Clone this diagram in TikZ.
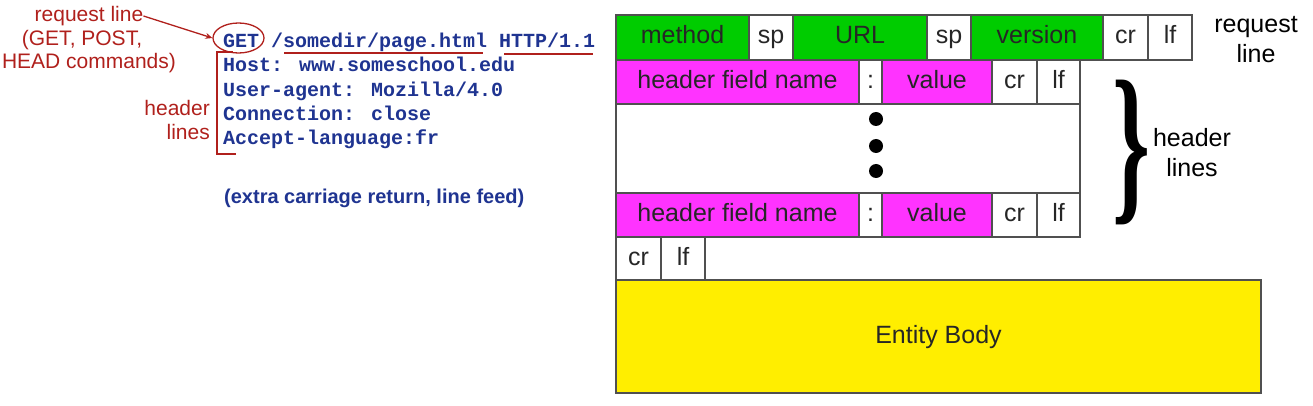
\documentclass[tikz,border=0pt]{standalone}
\usepackage{fontspec}
\setmainfont{Liberation Sans}
\newfontfamily\monofont{Liberation Mono}
\newfontfamily\seriffont{Liberation Serif}
\usetikzlibrary{shapes.geometric,arrows.meta}
\definecolor{grn}{RGB}{0,204,0}
\definecolor{mag}{RGB}{255,51,255}
\definecolor{yel}{RGB}{255,238,0}
\definecolor{navy}{RGB}{31,52,145}
\definecolor{ann}{RGB}{176,32,28}
\definecolor{edge}{RGB}{80,80,80}
\begin{document}
\begin{tikzpicture}[x=1pt,y=-1pt,
  box/.style={draw=edge,line width=1.3pt,anchor=north west,inner sep=0pt,outer sep=0pt,
    font=\fontsize{25}{25}\selectfont,text=black!85,text height=18pt,text depth=5pt},
  gbox/.style={box,fill=grn},
  mbox/.style={box,fill=mag},
  wbox/.style={box,fill=white},
  code/.style={anchor=base west,inner sep=0pt,text=navy,font=\monofont\bfseries\fontsize{20}{20}\selectfont},
  annot/.style={text=ann,inner sep=0pt,font=\fontsize{21}{21}\selectfont},
  redline/.style={draw=ann,line width=1.3pt},
  dot/.style={circle,fill=black,minimum size=14pt,inner sep=0pt},
  side/.style={align=center,inner sep=0pt,font=\fontsize{25}{30}\selectfont}]
\useasboundingbox (0,0) rectangle (1313,406);
% request line row
\node[gbox,minimum width=133pt,minimum height=45pt] (m) at (616,15) {method};
\node[wbox,minimum width=44pt,minimum height=45pt] (sp1) at (m.north east) {sp};
\node[gbox,minimum width=134pt,minimum height=45pt] (url) at (sp1.north east) {URL};
\node[wbox,minimum width=44pt,minimum height=45pt] (sp2) at (url.north east) {sp};
\node[gbox,minimum width=132pt,minimum height=45pt] (ver) at (sp2.north east) {version};
\node[wbox,minimum width=45pt,minimum height=45pt] (cr0) at (ver.north east) {cr};
\node[wbox,minimum width=44pt,minimum height=45pt] (lf0) at (cr0.north east) {lf};
% first header line
\node[mbox,minimum width=243pt,minimum height=44pt] (h1) at (616,60) {header field name};
\node[wbox,minimum width=23pt,minimum height=44pt] (c1) at (h1.north east) {:};
\node[mbox,minimum width=110pt,minimum height=44pt] (v1) at (c1.north east) {value};
\node[wbox,minimum width=45pt,minimum height=44pt] (cr1) at (v1.north east) {cr};
\node[wbox,minimum width=43pt,minimum height=44pt] (lf1) at (cr1.north east) {lf};
% gap
\node[wbox,minimum width=464pt,minimum height=89pt] (gap) at (616,104) {};
\node[dot] (d1) at (876,119) {};
\node[dot] (d2) at (876,146) {};
\node[dot] (d3) at (876,171) {};
% last header line
\node[mbox,minimum width=243pt,minimum height=44pt] (h2) at (616,193) {header field name};
\node[wbox,minimum width=23pt,minimum height=44pt] (c2) at (h2.north east) {:};
\node[mbox,minimum width=110pt,minimum height=44pt] (v2) at (c2.north east) {value};
\node[wbox,minimum width=45pt,minimum height=44pt] (cr2) at (v2.north east) {cr};
\node[wbox,minimum width=43pt,minimum height=44pt] (lf2) at (cr2.north east) {lf};
% blank line
\node[wbox,minimum width=45pt,minimum height=43pt] (cr3) at (616,237) {cr};
\node[wbox,minimum width=44pt,minimum height=43pt] (lf3) at (cr3.north east) {lf};
% body
\node[box,fill=yel,minimum width=645pt,minimum height=113pt] (body) at (616,280) {Entity Body};
% side labels
\node[side] (rqlab) at (1256,40) {request\\line};
\node[inner sep=0pt,font=\seriffont\bfseries\fontsize{175}{175}\selectfont,xscale=0.55] (brace) at (1131,152) {\}};
\node[side] (hdlab) at (1192,153) {header\\lines};
% left: message text
\node[code] (get) at (223,48) {GET};
\node[code] (path) at (271,48) {/somedir/page.html};
\node[code] (http) at (499,48) {HTTP/1.1};
\node[code] (host) at (223,72) {Host: www.someschool.edu};
\node[code] (ua) at (223,96.5) {User-agent: Mozilla/4.0};
\node[code] (conn) at (223,120.5) {Connection: close};
\node[code] (lang) at (223,145) {Accept-language:fr};
\node[anchor=west,inner sep=0pt,text=navy,font=\bfseries\fontsize{20}{20}\selectfont] (extra) at (224,198) {(extra carriage return, line feed)};
% annotations
\node[annot] (rl) at (89,16) {request line};
\node[annot] (gp) at (82,40) {(GET, POST,};
\node[annot] (hc) at (89,63) {HEAD commands)};
\node[annot,anchor=east] (hl1) at (210,108) {header};
\node[annot,anchor=east] (hl2) at (210,132) {lines};
\node[ellipse,draw=ann,line width=1.3pt,minimum width=51pt,minimum height=30pt,inner sep=0pt] (ring) at (238.5,38) {};
\draw[redline,-{Stealth[length=7pt,width=6pt]}] (rl.east) -- (ring.west);
\draw[redline] ([xshift=13pt,yshift=-5pt]path.base west) -- ([xshift=-4pt,yshift=-5pt]path.base east);
\draw[redline] ([xshift=5pt,yshift=-6pt]http.base west) -- ([xshift=-2pt,yshift=-6pt]http.base east);
\coordinate (bt) at (233,52);
\coordinate (bb) at (236,154);
\draw[redline] (bt) -| (217,154) -- (bb);
\end{tikzpicture}
\end{document}
